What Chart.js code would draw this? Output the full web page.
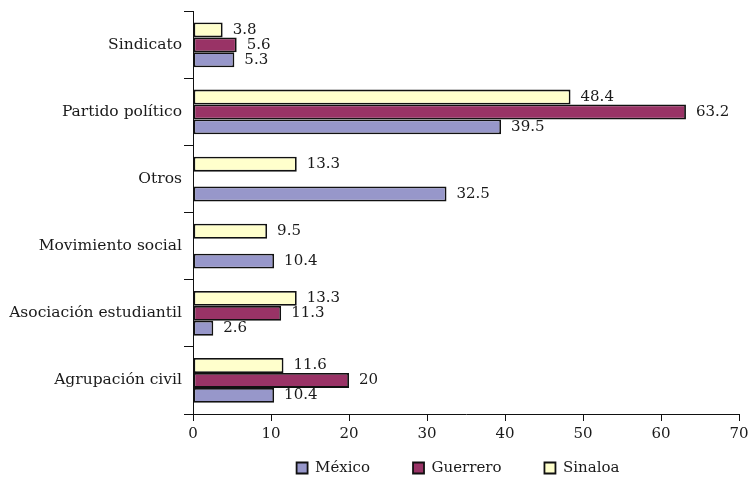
<!DOCTYPE html>
<html>
<head>
<meta charset="utf-8">
<script src="https://cdn.jsdelivr.net/npm/chart.js@4"></script>
<style>
  html, body { margin: 0; padding: 0; background: #ffffff; }
  #wrap { width: 754px; height: 479px; }
</style>
</head>
<body>
<div id="wrap"><canvas id="c" width="754" height="479"></canvas></div>
<script>
const categories = ['Sindicato', 'Partido político', 'Otros', 'Movimiento social', 'Asociación estudiantil', 'Agrupación civil'];
const mexico   = [5.3, 39.5, 32.5, 10.4, 2.6, 10.4];
const guerrero = [5.6, 63.2, null, null, 11.3, 20];
const sinaloa  = [3.8, 48.4, 13.3, 9.5, 13.3, 11.6];
const xTicks   = [0, 10, 20, 30, 40, 50, 60, 70];

const FONT = 'DejaVu Serif';
const TXT = '#1a1a1a';
const LEGEND_PAD = 43;
const LEGEND_FONT = 15;
const LEGEND_CENTER_Y = 468;

const valueLabels = {
  id: 'valueLabels',
  afterDatasetsDraw(chart) {
    const ctx = chart.ctx;
    ctx.save();
    ctx.font = '15px "' + FONT + '"';
    ctx.fillStyle = TXT;
    ctx.textAlign = 'left';
    ctx.textBaseline = 'middle';
    chart.data.datasets.forEach((ds, i) => {
      const meta = chart.getDatasetMeta(i);
      meta.data.forEach((bar, j) => {
        const v = ds.data[j];
        if (v === null || v === undefined) return;
        ctx.fillText(String(v), bar.x + 10, bar.y);
      });
    });
    ctx.restore();
  }
};

// keep the legend's wide item spacing without letting it eat vertical space
const legendShift = {
  id: 'legendShift',
  afterLayout(chart) {
    const lg = chart.legend;
    if (!lg) return;
    lg.top = LEGEND_CENTER_Y - LEGEND_PAD - LEGEND_FONT / 2;
    lg.bottom = chart.height;
    lg.left -= 8;
    lg.right -= 8;
  }
};

new Chart(document.getElementById('c'), {
  type: 'bar',
  data: {
    labels: categories,
    datasets: [
      { label: 'Sinaloa',  data: sinaloa,  backgroundColor: '#ffffcc', borderColor: '#111', borderWidth: 1.8, borderSkipped: false },
      { label: 'Guerrero', data: guerrero, backgroundColor: '#993366', borderColor: '#111', borderWidth: 1.8, borderSkipped: false },
      { label: 'México',   data: mexico,   backgroundColor: '#9797ca', borderColor: '#111', borderWidth: 1.8, borderSkipped: false }
    ]
  },
  options: {
    indexAxis: 'y',
    responsive: false,
    animation: false,
    devicePixelRatio: 1,
    categoryPercentage: 0.667,
    barPercentage: 1,
    layout: { padding: { top: 8, right: 15, left: 0, bottom: 0 } },
    plugins: {
      tooltip: { enabled: false },
      legend: {
        position: 'bottom',
        fullSize: false,
        reverse: true,
        maxHeight: 28,
        labels: {
          boxWidth: 11,
          boxHeight: 11,
          padding: LEGEND_PAD,
          color: TXT,
          font: { family: FONT, size: LEGEND_FONT, lineHeight: 1 }
        }
      }
    },
    scales: {
      x: {
        min: 0, max: 70,
        afterBuildTicks(scale) { scale.ticks = xTicks.map(v => ({ value: v })); },
        afterFit(scale) { scale.height = 479 - 28 - 414; },
        grid: { drawOnChartArea: false, color: '#111', tickLength: 7, tickWidth: 1 },
        border: { display: true, color: '#111', width: 1 },
        ticks: { color: TXT, font: { family: FONT, size: 15 }, padding: 4 }
      },
      y: {
        afterFit(scale) { scale.width = 193; },
        grid: { drawOnChartArea: false, offset: true, color: '#111', tickLength: 9, tickWidth: 1 },
        border: { display: true, color: '#111', width: 1 },
        ticks: { color: TXT, font: { family: FONT, size: 15.5 }, padding: 2 }
      }
    }
  },
  plugins: [valueLabels, legendShift]
});
</script>
</body>
</html>
